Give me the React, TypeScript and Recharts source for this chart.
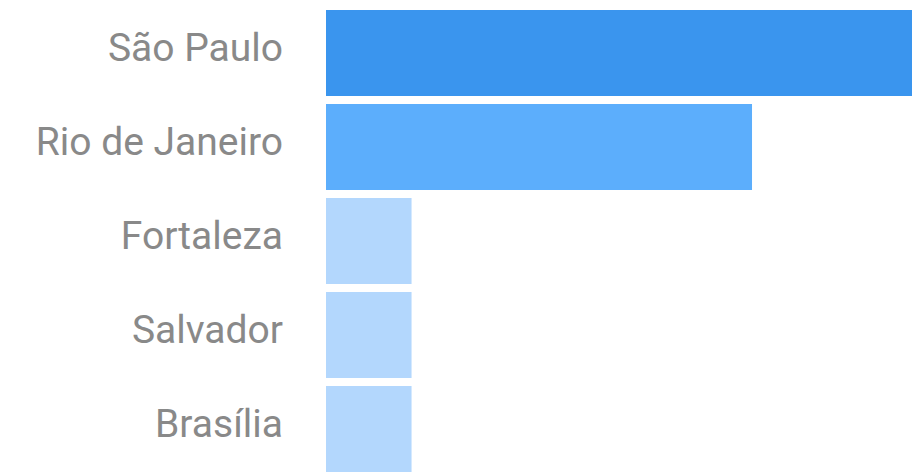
import { Bar, BarChart, Cell, XAxis, YAxis } from "recharts"

const cities = ["São Paulo", "Rio de Janeiro", "Fortaleza", "Salvador", "Brasília"]
const values = [100, 72.7, 14.6, 14.6, 14.6]
const colors = ["#3a95ee", "#5caefc", "#b3d7fd", "#b3d7fd", "#b3d7fd"]

const data = cities.map((city, i) => ({ city, value: values[i] }))

function CityTick({ x, y, payload }: any) {
  return (
    <text x={x} y={y} dy={8} textAnchor="end" fill="#898989" fontSize={39} fontFamily="Roboto">
      {payload.value}
    </text>
  )
}

export default function App() {
  return (
    <div style={{ position: "fixed", top: 0, left: 0, background: "#fff" }}>
      <BarChart
        width={912}
        height={476}
        data={data}
        layout="vertical"
        margin={{ top: 6, right: 0, bottom: 0, left: 0 }}
        barCategoryGap={4}
      >
        <XAxis type="number" domain={[0, 100]} hide />
        <YAxis
          type="category"
          dataKey="city"
          width={326}
          axisLine={false}
          tickLine={false}
          tickSize={0}
          tickMargin={43}
          tick={<CityTick />}
        />
        <Bar dataKey="value" isAnimationActive={false}>
          {data.map((d, i) => (
            <Cell key={d.city} fill={colors[i]} />
          ))}
        </Bar>
      </BarChart>
    </div>
  )
}
